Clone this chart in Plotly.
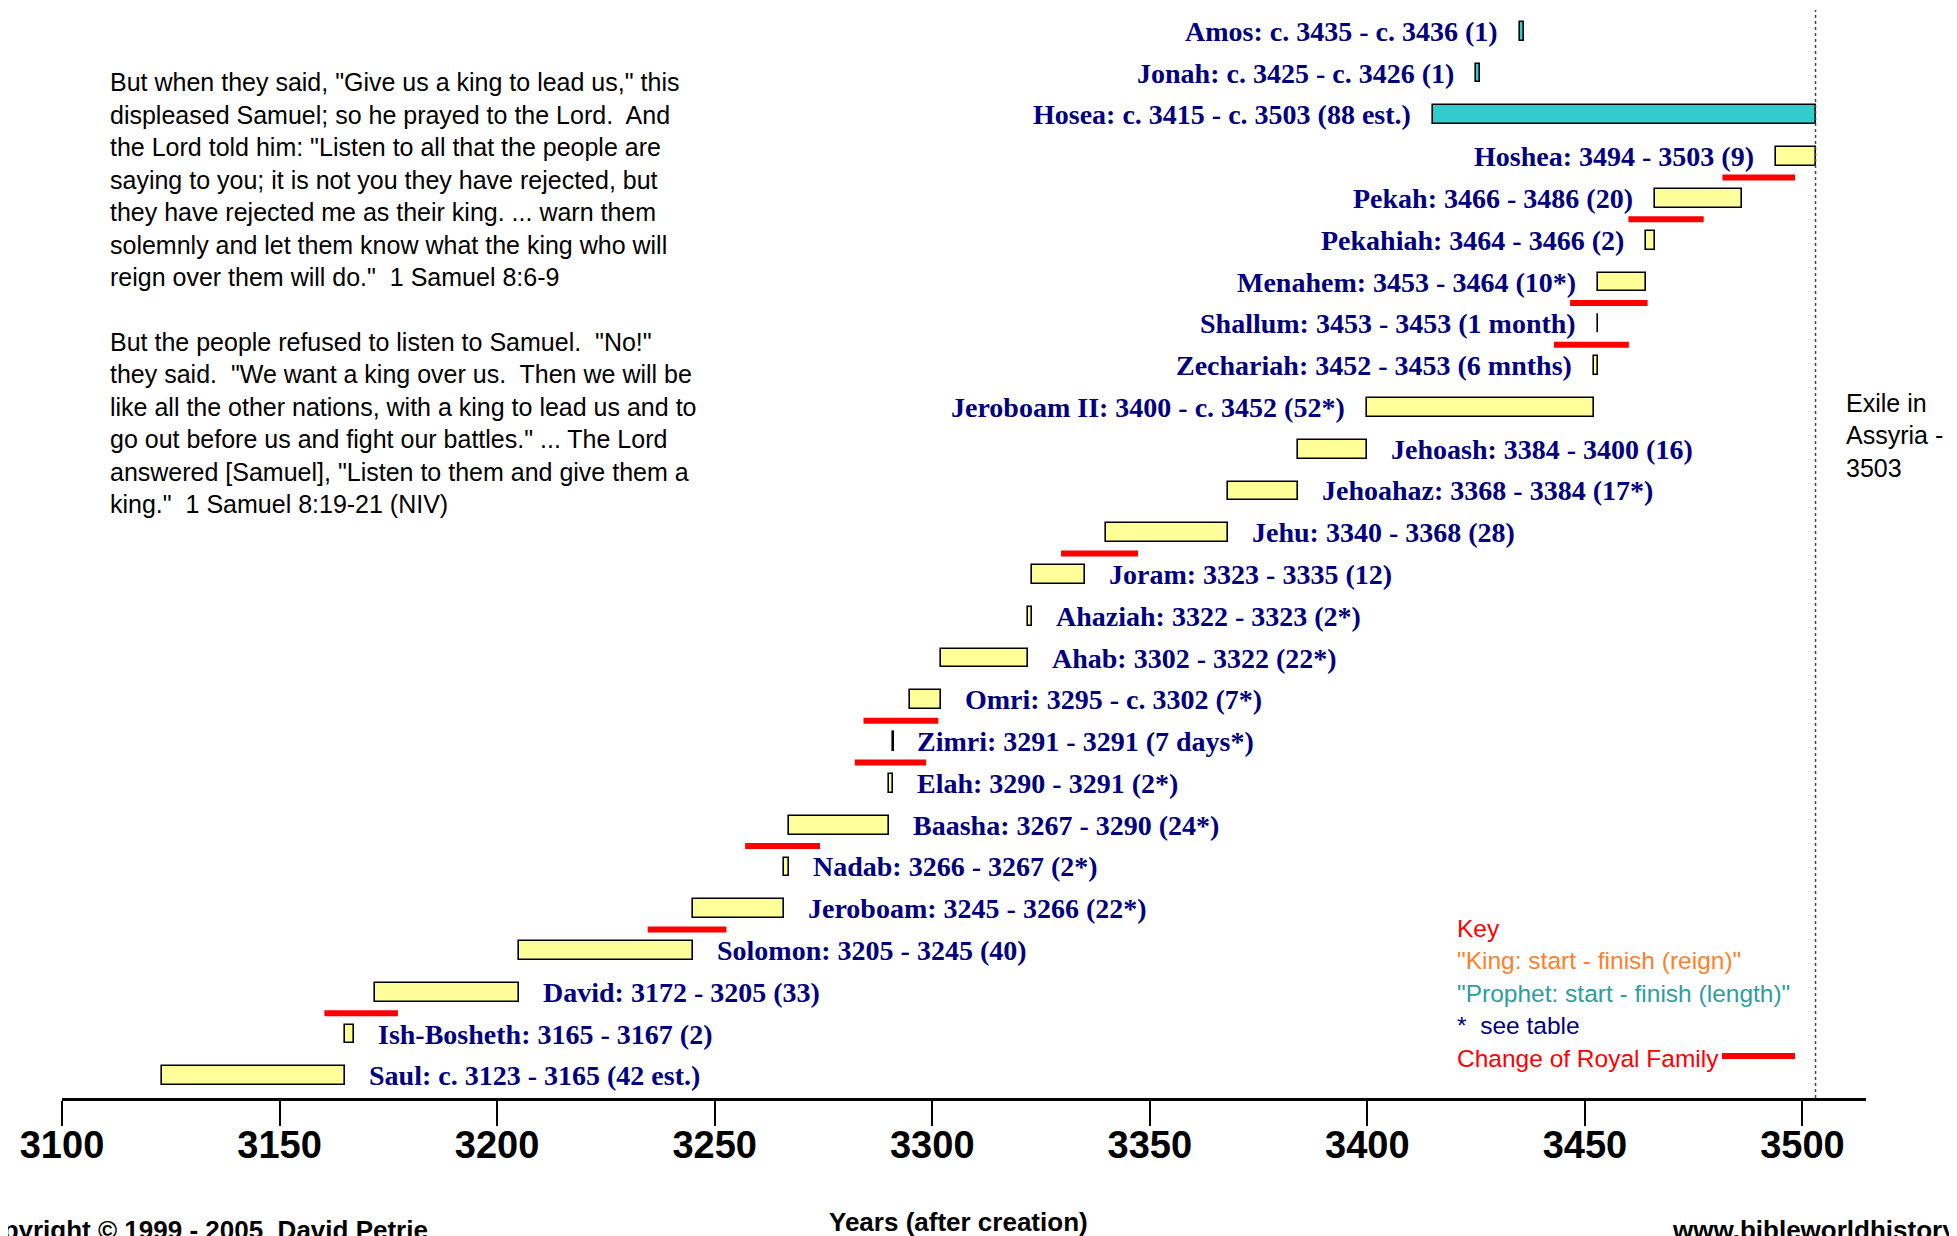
import plotly.graph_objects as go

# ------------------------------------------------------------------ data
# rows from bottom (Saul) to top (Amos)
NAMES = ["Saul", "Ish-Bosheth", "David", "Solomon", "Jeroboam", "Nadab",
         "Baasha", "Elah", "Zimri", "Omri", "Ahab", "Ahaziah", "Joram",
         "Jehu", "Jehoahaz", "Jehoash", "Jeroboam II", "Zechariah",
         "Shallum", "Menahem", "Pekahiah", "Pekah", "Hoshea",
         "Hosea", "Jonah", "Amos"]
STARTS = [3123, 3165, 3172, 3205, 3245, 3266, 3267, 3290, 3291, 3295, 3302,
          3322, 3323, 3340, 3368, 3384, 3400, 3452, 3453, 3453, 3464, 3466,
          3494, 3415, 3425, 3435]
ENDS = [3165, 3167, 3205, 3245, 3266, 3267, 3290, 3291, 3291, 3302, 3322,
        3323, 3335, 3368, 3384, 3400, 3452, 3453, 3453, 3464, 3466, 3486,
        3503, 3503, 3426, 3436]
LABELS = [
    "Saul: c. 3123 - 3165 (42 est.)",
    "Ish-Bosheth: 3165 - 3167 (2)",
    "David: 3172 - 3205 (33)",
    "Solomon: 3205 - 3245 (40)",
    "Jeroboam: 3245 - 3266 (22*)",
    "Nadab: 3266 - 3267 (2*)",
    "Baasha: 3267 - 3290 (24*)",
    "Elah: 3290 - 3291 (2*)",
    "Zimri: 3291 - 3291 (7 days*)",
    "Omri: 3295 - c. 3302 (7*)",
    "Ahab: 3302 - 3322 (22*)",
    "Ahaziah: 3322 - 3323 (2*)",
    "Joram: 3323 - 3335 (12)",
    "Jehu: 3340 - 3368 (28)",
    "Jehoahaz: 3368 - 3384 (17*)",
    "Jehoash: 3384 - 3400 (16)",
    "Jeroboam II: 3400 - c. 3452 (52*)",
    "Zechariah: 3452 - 3453 (6 mnths)",
    "Shallum: 3453 - 3453 (1 month)",
    "Menahem: 3453 - 3464 (10*)",
    "Pekahiah: 3464 - 3466 (2)",
    "Pekah: 3466 - 3486 (20)",
    "Hoshea: 3494 - 3503 (9)",
    "Hosea: c. 3415 - c. 3503 (88 est.)",
    "Jonah: c. 3425 - c. 3426 (1)",
    "Amos: c. 3435 - c. 3436 (1)",
]
PROPHETS = ["Hosea", "Jonah", "Amos"]
# label on the left of the bar from this row upwards
FIRST_LEFT_LABEL = "Jeroboam II"

# change of royal family: (king, from year, to year), drawn under the king's bar
FAMILY_CHANGES = [
    ("David", 3160.3, 3177.2),
    ("Jeroboam", 3234.6, 3252.7),
    ("Baasha", 3257.0, 3274.2),
    ("Zimri", 3282.2, 3298.6),
    ("Omri", 3284.2, 3301.4),
    ("Jehu", 3329.6, 3347.3),
    ("Shallum", 3442.9, 3460.1),
    ("Menahem", 3446.6, 3464.4),
    ("Pekah", 3460.0, 3477.3),
    ("Hoshea", 3481.6, 3498.3),
]
EXILE_YEAR = 3503
TICKS = [3100, 3150, 3200, 3250, 3300, 3350, 3400, 3450, 3500]

QUOTE_LINES = [
    'But when they said, "Give us a king to lead us," this',
    'displeased Samuel; so he prayed to the Lord.  And',
    'the Lord told him: "Listen to all that the people are',
    'saying to you; it is not you they have rejected, but',
    'they have rejected me as their king. ... warn them',
    'solemnly and let them know what the king who will',
    'reign over them will do."  1 Samuel 8:6-9',
    '',
    'But the people refused to listen to Samuel.  "No!"',
    'they said.  "We want a king over us.  Then we will be',
    'like all the other nations, with a king to lead us and to',
    'go out before us and fight our battles." ... The Lord',
    'answered [Samuel], "Listen to them and give them a',
    'king."  1 Samuel 8:19-21 (NIV)',
]
KEY_LINES = [
    ("Key", "#FF0000"),
    ('"King: start - finish (reign)"', "#FF7F2A"),
    ('"Prophet: start - finish (length)"', "#2E9E9A"),
    ("*\u00a0\u00a0see table", "#000080"),
    ("Change of Royal Family", "#FF0000"),
]
EXILE_LINES = ["Exile in", "Assyria -", "3503"]

# ------------------------------------------------------------------ layout helpers
W, H = 1957, 1236
OFF = 8                      # page body margin: the figure starts 8 px in
ML, MR, MT, MB = 54, 99, 2, 146
PW, PH = W - ML - MR, H - MT - MB


def px(x):
    """screen x (px) -> paper x"""
    return (x - OFF - ML) / PW


def py(y):
    """screen y (px) -> paper y"""
    return (H - MB - (y - OFF)) / PH


NAVY = "#000080"
LABEL_FONT = dict(family="Liberation Serif", size=28, color=NAVY, weight="bold")
TEXT_FONT = "Liberation Sans"

rows = list(range(len(NAMES)))
row_of = {n: i for i, n in enumerate(NAMES)}
durations = [max(e - s, 0.12) for s, e in zip(STARTS, ENDS)]
colors = ["#33CCCC" if n in PROPHETS else "#FFFF99" for n in NAMES]

fig = go.Figure()
fig.add_trace(go.Bar(
    y=rows, x=durations, base=STARTS, orientation="h", width=0.45,
    marker=dict(color=colors, line=dict(color="black", width=1.6)),
    hoverinfo="skip", showlegend=False,
))

# red "change of royal family" bars, half a row below the king
rx, ry = [], []
for king, a, b in FAMILY_CHANGES:
    r = row_of[king] - 0.5
    rx += [a, b, None]
    ry += [r, r, None]
fig.add_trace(go.Scatter(x=rx, y=ry, mode="lines",
                         line=dict(color="#FF0000", width=6),
                         hoverinfo="skip", showlegend=False))

# exile line
fig.add_shape(type="line", x0=EXILE_YEAR, x1=EXILE_YEAR, xref="x",
              y0=0, y1=1, yref="paper",
              line=dict(color="#444444", width=1.5, dash="dot"))

annotations = []
left_from = row_of[FIRST_LEFT_LABEL]
for i, lab in enumerate(LABELS):
    if i >= left_from:
        annotations.append(dict(x=STARTS[i], y=i, text=lab, xanchor="right",
                                xshift=-20, showarrow=False, font=LABEL_FONT))
    else:
        annotations.append(dict(x=ENDS[i], y=i, text=lab, xanchor="left",
                                xshift=22, showarrow=False, font=LABEL_FONT))

for i, line in enumerate(QUOTE_LINES):
    if line:
        annotations.append(dict(
            x=px(108), y=py(82.4 + 32.45 * i), xref="paper", yref="paper",
            text=line, xanchor="left", yanchor="middle", showarrow=False,
            font=dict(family=TEXT_FONT, size=25, color="black")))

for i, (line, col) in enumerate(KEY_LINES):
    annotations.append(dict(
        x=px(1455), y=py(928.5 + 32.45 * i), xref="paper", yref="paper",
        text=line, xanchor="left", yanchor="middle", showarrow=False,
        font=dict(family=TEXT_FONT, size=24.5, color=col)))
fig.add_shape(type="line", xref="paper", yref="paper",
              x0=px(1722), x1=px(1795), y0=py(1056), y1=py(1056),
              line=dict(color="#FF0000", width=6))

for i, line in enumerate(EXILE_LINES):
    annotations.append(dict(
        x=px(1844), y=py(403 + 32.45 * i), xref="paper", yref="paper",
        text=line, xanchor="left", yanchor="middle", showarrow=False,
        font=dict(family=TEXT_FONT, size=25, color="black")))

bold_sans = dict(family=TEXT_FONT, size=26, color="black", weight="bold")
annotations.append(dict(x=px(958), y=py(1222), xref="paper", yref="paper",
                        text="Years (after creation)", xanchor="center",
                        yanchor="middle", showarrow=False, font=bold_sans))
annotations.append(dict(x=px(430), y=py(1213), xref="paper", yref="paper",
                        text="Copyright © 1999 - 2005  David Petrie",
                        xanchor="right", yanchor="top", showarrow=False,
                        font=bold_sans))
annotations.append(dict(x=px(1670), y=py(1213), xref="paper", yref="paper",
                        text="www.bibleworldhistory.com",
                        xanchor="left", yanchor="top", showarrow=False,
                        font=bold_sans))

fig.update_layout(
    width=W, height=H,
    margin=dict(l=ML, r=MR, t=MT, b=MB),
    paper_bgcolor="white", plot_bgcolor="white",
    annotations=annotations,
    bargap=0,
    xaxis=dict(range=[3100, 3514.6], tickvals=TICKS, showgrid=False,
               zeroline=False, showline=True, linecolor="black", linewidth=3,
               ticks="outside", ticklen=25, tickwidth=1.5, tickcolor="black",
               tickfont=dict(family=TEXT_FONT, size=38, color="black",
                             weight="bold"),
               ticklabelstandoff=-14),
    yaxis=dict(range=[-0.53, 25.51], visible=False, showgrid=False),
)

fig.write_html("out.html")
